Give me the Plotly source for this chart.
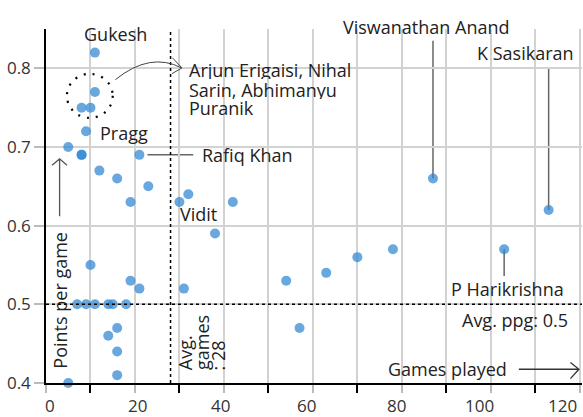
import plotly.graph_objects as go

# ---- data ----
games = [11, 11, 8, 10, 9, 5, 8, 8, 21, 12, 16, 23, 19, 30, 32, 42, 38, 31, 54,
         10, 19, 21, 7, 9, 11, 14, 15, 18, 16, 14, 16, 16, 5,
         87, 113, 57, 63, 70, 78, 103]
ppg = [0.82, 0.77, 0.75, 0.75, 0.72, 0.70, 0.69, 0.69, 0.69, 0.67, 0.66, 0.65, 0.63, 0.63, 0.64, 0.63, 0.59, 0.52, 0.53,
       0.55, 0.53, 0.52, 0.50, 0.50, 0.50, 0.50, 0.50, 0.50, 0.47, 0.46, 0.44, 0.41, 0.40,
       0.66, 0.62, 0.47, 0.54, 0.56, 0.57, 0.57]
avg_games = 28
avg_ppg = 0.5
x_ticks = [0, 20, 40, 60, 80, 100, 120]
x_tick_labels = ["0", "20", "40", "60", "80", "100", "120"]
y_ticks = [0.4, 0.5, 0.6, 0.7, 0.8]

FONT = "Open Sans"
TXT = "#222"
LEAD = "#666"
FS = 18
# pixel nudges so the x labels sit as in the reference
x_label_shift = [4, 3, -3, -6, -5, -11, -17]

fig = go.Figure()
fig.add_trace(go.Scatter(
    x=games, y=ppg, mode="markers", cliponaxis=False,
    marker=dict(size=10, color="#2f86d3", opacity=0.72, line=dict(width=0)),
    hoverinfo="skip", showlegend=False))

shapes = []
# average lines
shapes.append(dict(type="line", xref="x", yref="y", x0=0, x1=120.5, y0=avg_ppg, y1=avg_ppg,
                   line=dict(color="black", width=1.5, dash="3px,3px"), layer="above"))
shapes.append(dict(type="line", xref="x", yref="y", x0=avg_games, x1=avg_games, y0=0.4, y1=0.85,
                   line=dict(color="black", width=1.5, dash="3px,3px"), layer="above"))
# dotted circle round the cluster
shapes.append(dict(type="circle", xref="x", yref="y", x0=4.7, x1=15.0, y0=0.737, y1=0.793,
                   line=dict(color="black", width=2.2, dash="2px,7px")))
# curved arrow
shapes.append(dict(type="path", xref="x", yref="y",
                   path="M 15.6,0.7856 Q 23.4,0.8213 30.5,0.8005",
                   line=dict(color="#444", width=1)))
shapes.append(dict(type="path", xref="x", yref="y",
                   path="M 28.4,0.8135 L 30.56,0.8005 L 28.3,0.7932",
                   line=dict(color="#444", width=1)))
# leader lines
shapes.append(dict(type="line", xref="x", yref="y", x0=22.8, x1=33.1, y0=0.69, y1=0.69,
                   line=dict(color=LEAD, width=1.5), layer="below"))
shapes.append(dict(type="line", xref="x", yref="y", x0=87, x1=87, y0=0.835, y1=0.66,
                   line=dict(color=LEAD, width=1.5), layer="below"))
shapes.append(dict(type="line", xref="x", yref="y", x0=113, x1=113, y0=0.80, y1=0.62,
                   line=dict(color=LEAD, width=1.5), layer="below"))
shapes.append(dict(type="line", xref="x", yref="y", x0=103, x1=103, y0=0.57, y1=0.536,
                   line=dict(color=LEAD, width=1.5), layer="below"))
# axis arrows
shapes.append(dict(type="path", xref="x", yref="y",
                   path="M 3.06,0.612 L 3.06,0.6849 M 1.35,0.6768 L 3.06,0.6849 L 4.72,0.6768",
                   line=dict(color="#555", width=1.3)))
shapes.append(dict(type="path", xref="x", yref="y",
                   path="M 106.3,0.4175 L 119.8,0.4175 M 117.9,0.426 L 119.8,0.4175 L 117.9,0.4056",
                   line=dict(color="#333", width=1.3)))

def ann(text, x, y, xanchor="left", yanchor="middle", align="left", angle=0, size=FS, ref="y", height=None):
    d = dict(text=text, x=x, y=y, xref="x", yref=ref, showarrow=False,
             xanchor=xanchor, yanchor=yanchor, align=align, textangle=angle,
             font=dict(family=FONT, size=size, color=TXT))
    if height is not None:
        d["height"] = height
    return d

annotations = [
    ann("Gukesh", 15.6, 0.844, xanchor="center"),
    ann("Arjun Erigaisi, Nihal", 31.6, 0.7983, height=18),
    ann("Sarin, Abhimanyu", 31.6, 0.7728, height=18),
    ann("Puranik", 31.6, 0.7499, height=18),
    ann("Pragg", 11.6, 0.718),
    ann("Rafiq Khan", 34.6, 0.690),
    ann("Vidit", 29.6, 0.615),
    ann("Viswanathan Anand", 85.5, (0.852 - 0.4) / 0.45, xanchor="center", ref="paper"),
    ann("K Sasikaran", 107.7, 0.820, xanchor="center"),
    ann("P Harikrishna", 103.7, 0.519, xanchor="center"),
    ann("Avg. ppg: 0.5", 117.7, 0.480, xanchor="right"),
    ann("Games played", 76.4, 0.4175),
    ann("Points per game", 3.2, 0.505, xanchor="center", angle=-90),
    ann("Avg.", 31.1, 0.4136, xanchor="center", yanchor="bottom", angle=-90),
    ann("games", 35.1, 0.4136, xanchor="center", yanchor="bottom", angle=-90),
    ann(": 28", 38.7, 0.4136, xanchor="center", yanchor="bottom", angle=-90),
]
# x tick labels, placed at the axis' tick values
for v, lab, sh in zip(x_ticks, x_tick_labels, x_label_shift):
    annotations.append(dict(text=lab, x=v, y=0, xref="x", yref="paper", showarrow=False,
                            xanchor="center", yanchor="top", xshift=sh, yshift=-9,
                            font=dict(family=FONT, size=17, color="#333")))

fig.update_layout(
    width=583, height=417,
    margin=dict(l=46, r=1, t=29, b=34),
    plot_bgcolor="white", paper_bgcolor="white",
    font=dict(family=FONT, size=17, color="#333"),
    shapes=shapes, annotations=annotations,
    xaxis=dict(range=[0, 120.5], tickvals=x_ticks, ticks="outside", showticklabels=False,
               ticklen=8, tickwidth=1.5, automargin=False,
               tickcolor="#bbb", showgrid=True, gridcolor="#d2d2d2", gridwidth=1.5,
               showline=True, linecolor="black", linewidth=1.5, zeroline=False,
               minor=dict(dtick=10, tick0=0, ticks="outside", ticklen=8, tickcolor="black",
                          showgrid=True, gridcolor="#d2d2d2", gridwidth=1.5)),
    yaxis=dict(range=[0.4, 0.85], tickvals=y_ticks, ticktext=[str(v) for v in y_ticks],
               ticks="outside", ticklen=10, tickwidth=1.5, tickcolor="#bbb", automargin=False,
               showgrid=True, gridcolor="#d2d2d2", gridwidth=1.5,
               showline=True, linecolor="black", linewidth=1.5, zeroline=False,
               tickfont=dict(size=17, color="#333")),
)

fig.write_html("out.html", config={"displayModeBar": False},
               post_script="document.body.style.margin='0';document.body.style.padding='0';")
